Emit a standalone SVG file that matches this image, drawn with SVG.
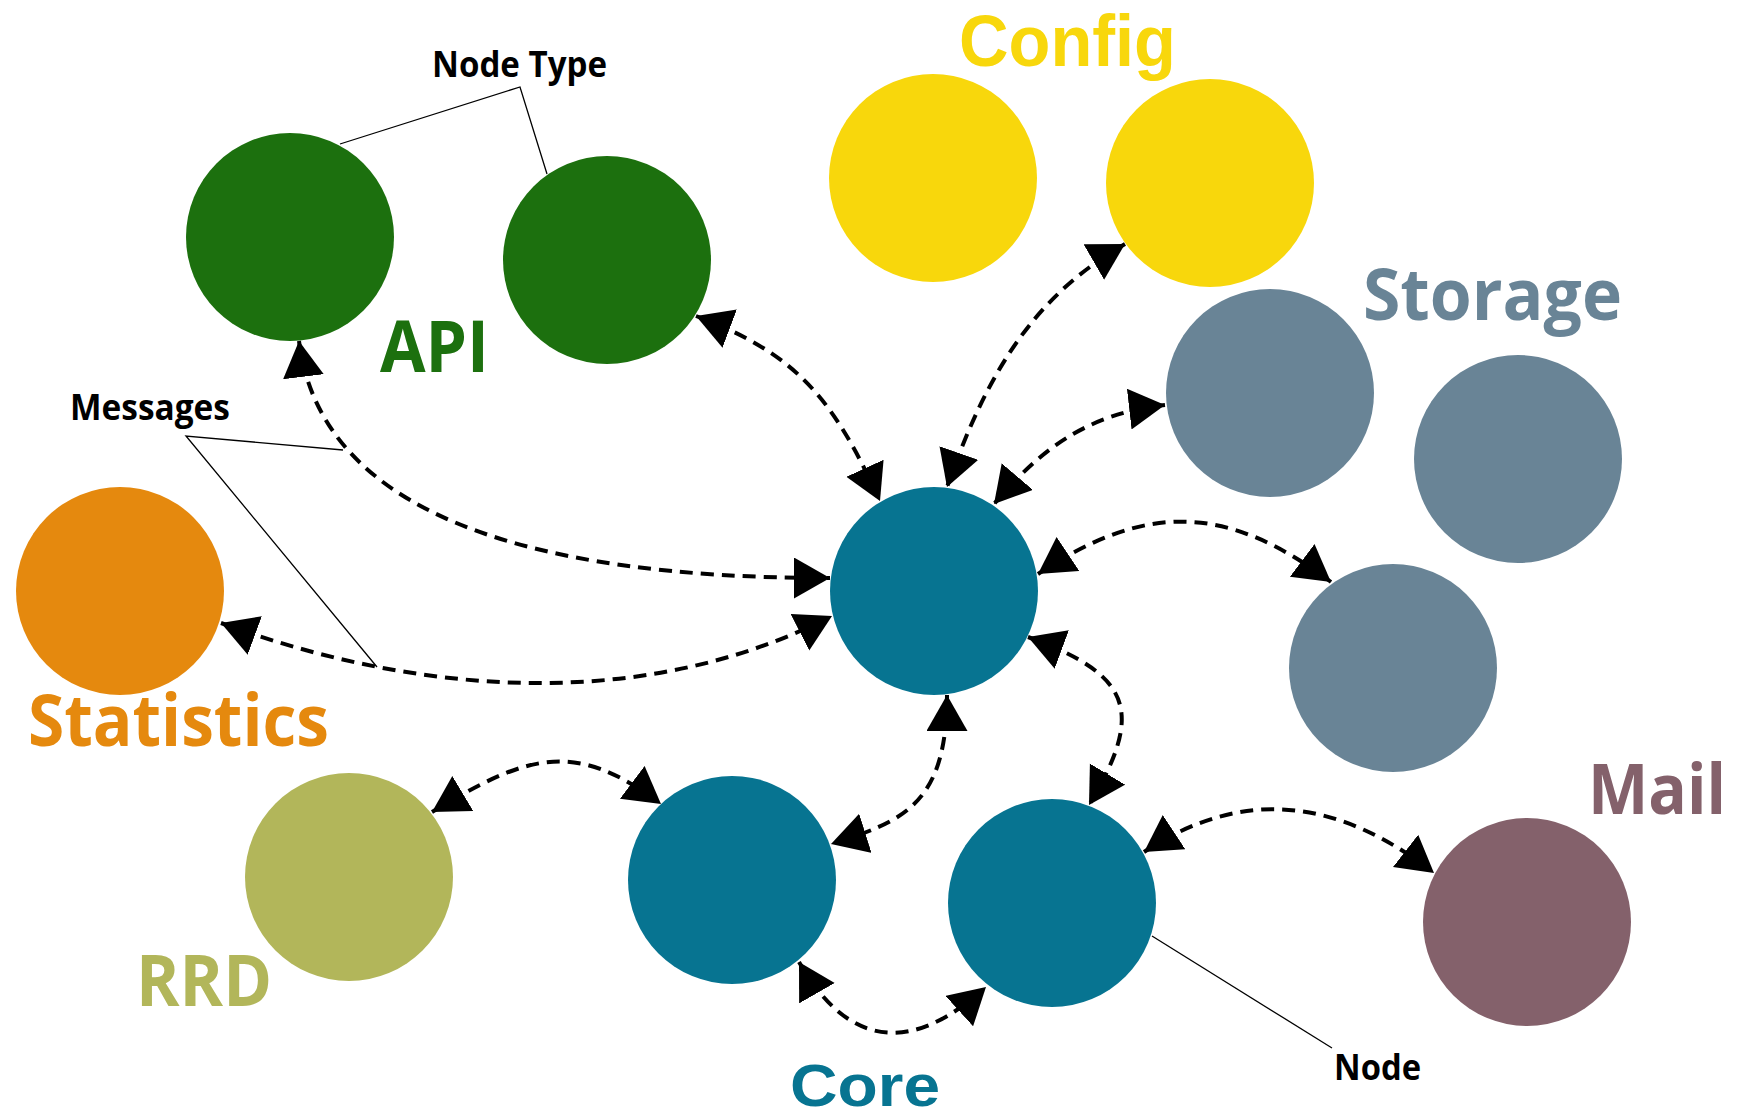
<svg xmlns="http://www.w3.org/2000/svg" width="1737" height="1119" viewBox="0 0 1737 1119">
<defs>
<style>
.lbl{font-family:"Open Sans","Liberation Sans",sans-serif;font-weight:700;}
.lbl2{font-family:"Liberation Sans",Arial,sans-serif;font-weight:700;}
.big{font-size:72px;}
.small{font-size:35px;fill:#000;}
.conn{fill:none;stroke:#000;stroke-width:4;stroke-dasharray:13 8;}
.lead{fill:none;stroke:#000;stroke-width:1.3;}
.api{fill:#1c700e;}
.cfg{fill:#f8d70c;}
.sto{fill:#698496;}
.core{fill:#077491;}
.stat{fill:#e5890e;}
.rrd{fill:#b2b65a;}
.mail{fill:#84616b;}
</style>
<marker id="ah" markerUnits="userSpaceOnUse" markerWidth="40" markerHeight="42" refX="36" refY="20.5" orient="auto-start-reverse" viewBox="0 0 40 42">
<path d="M0,0 L36,20.5 L0,41 Z" fill="#000"/>
</marker>
</defs>
<rect width="1737" height="1119" fill="#fff"/>

<g id="nodes">
<g id="api1"><circle class="api" cx="290" cy="237" r="104"/></g>
<g id="api2"><circle class="api" cx="607" cy="260" r="104"/></g>
<g id="config1"><circle class="cfg" cx="933" cy="178" r="104"/></g>
<g id="config2"><circle class="cfg" cx="1210" cy="183" r="104"/></g>
<g id="storage1"><circle class="sto" cx="1270" cy="393" r="104"/></g>
<g id="storage2"><circle class="sto" cx="1518" cy="459" r="104"/></g>
<g id="storage3"><circle class="sto" cx="1393" cy="668" r="104"/></g>
<g id="core-center"><circle class="core" cx="934" cy="591" r="104"/></g>
<g id="core-left"><circle class="core" cx="732" cy="880" r="104"/></g>
<g id="core-right"><circle class="core" cx="1052" cy="903" r="104"/></g>
<g id="statistics"><circle class="stat" cx="120" cy="591" r="104"/></g>
<g id="rrd"><circle class="rrd" cx="349" cy="877" r="104"/></g>
<g id="mail"><circle class="mail" cx="1527" cy="922" r="104"/></g>
</g>

<g id="connectors">
<path class="conn" d="M299,341 C320,510 520,578 830,578" marker-start="url(#ah)" marker-end="url(#ah)"/>
<path class="conn" d="M221,623 C409,692 636,716 832,616" marker-start="url(#ah)" marker-end="url(#ah)"/>
<path class="conn" d="M696,316 C799,354.5 834,401 880,501" marker-start="url(#ah)" marker-end="url(#ah)"/>
<path class="conn" d="M1125,244 C1038.5,294 989.8,364.3 947,487" marker-start="url(#ah)" marker-end="url(#ah)"/>
<path class="conn" d="M1165,405 C1085.5,414 1039.4,450.7 994,504" marker-start="url(#ah)" marker-end="url(#ah)"/>
<path class="conn" d="M1038,574 C1146.2,501.9 1227,504 1331,582" marker-start="url(#ah)" marker-end="url(#ah)"/>
<path class="conn" d="M1028,637 C1131.3,675 1145.5,710.7 1089,805" marker-start="url(#ah)" marker-end="url(#ah)"/>
<path class="conn" d="M947,695 C947,805 902.5,821.5 831,844" marker-start="url(#ah)" marker-end="url(#ah)"/>
<path class="conn" d="M432,812 C526.3,755.5 573.2,737.8 661,804" marker-start="url(#ah)" marker-end="url(#ah)"/>
<path class="conn" d="M799,962 C848.8,1048.7 911.9,1054.1 986,987" marker-start="url(#ah)" marker-end="url(#ah)"/>
<path class="conn" d="M1144,852 C1244,786 1339,799 1434,873" marker-start="url(#ah)" marker-end="url(#ah)"/>
</g>

<g id="leaders">
<path class="lead" d="M340,144 L520,87 L547,174"/>
<path class="lead" d="M343,450 L186,436 L377,667"/>
<path class="lead" d="M1152,936 L1332,1048"/>
</g>

<g id="labels">
<text class="lbl small" x="432" y="77" textLength="175" lengthAdjust="spacingAndGlyphs">Node Type</text>
<text class="lbl small" x="70" y="420" textLength="160" lengthAdjust="spacingAndGlyphs">Messages</text>
<text class="lbl small" x="1334" y="1080" textLength="87" lengthAdjust="spacingAndGlyphs">Node</text>
<text class="lbl big api" x="380" y="372" textLength="109" lengthAdjust="spacingAndGlyphs">API</text>
<text class="lbl2 big cfg" x="959" y="66" textLength="217" lengthAdjust="spacingAndGlyphs">Config</text>
<text class="lbl big sto" x="1363" y="320" textLength="259" lengthAdjust="spacingAndGlyphs">Storage</text>
<text class="lbl big stat" x="28" y="746" textLength="301" lengthAdjust="spacingAndGlyphs">Statistics</text>
<text class="lbl big rrd" x="136" y="1006" textLength="136" lengthAdjust="spacingAndGlyphs">RRD</text>
<text class="lbl mail" x="1588" y="814" font-size="70" textLength="138" lengthAdjust="spacingAndGlyphs">Mail</text>
<text class="lbl2 core" x="790" y="1106" font-size="60" textLength="150" lengthAdjust="spacingAndGlyphs">Core</text>
</g>
</svg>
